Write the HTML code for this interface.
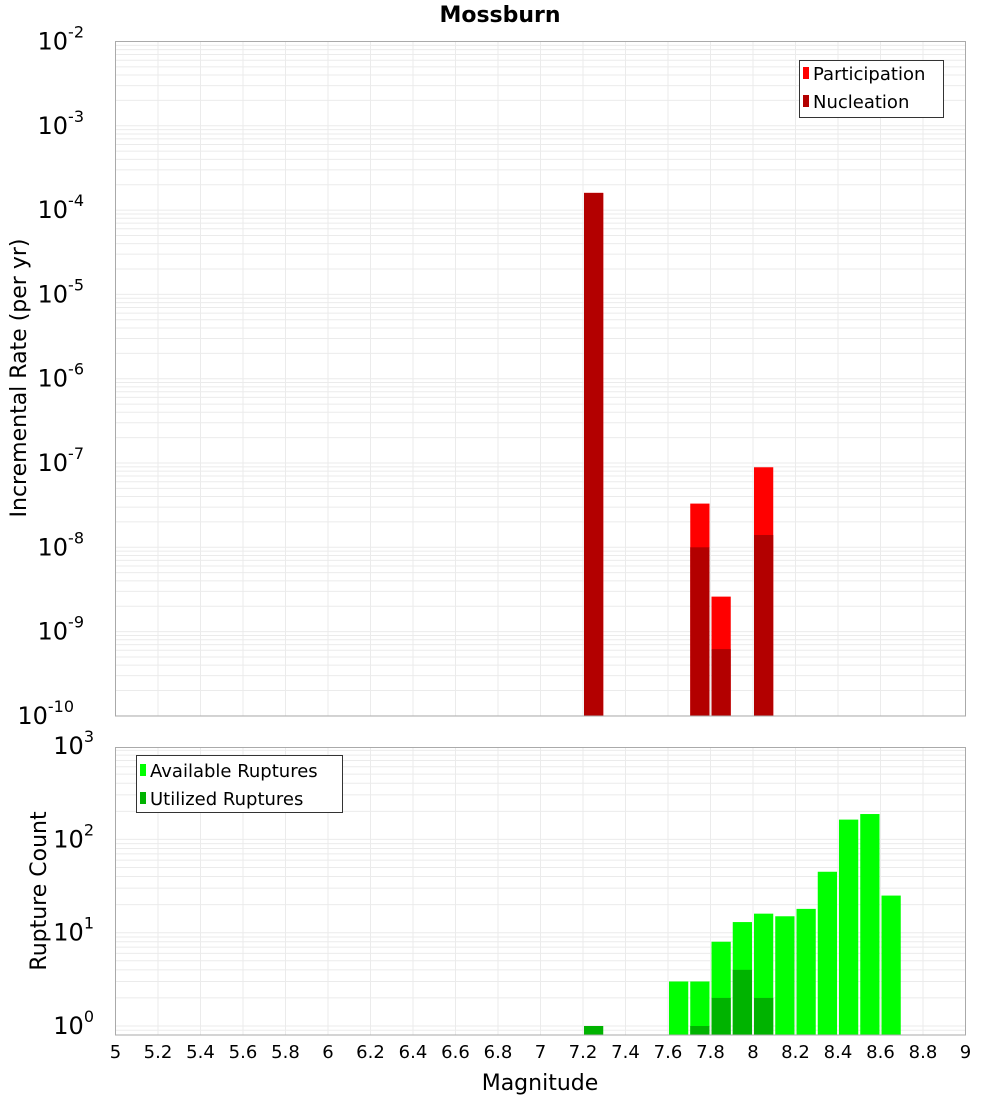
<!DOCTYPE html>
<html><head><meta charset="utf-8"><style>
body{margin:0;background:#fff;font-family:"Liberation Sans","DejaVu Sans",sans-serif}
svg text{font-family:"DejaVu Sans","Liberation Sans",sans-serif}
</style></head><body>
<svg id="c" width="1000" height="1100" xmlns="http://www.w3.org/2000/svg"></svg>
<script>
const binCenters=[7.25,7.75,7.85,8.05];
const participation=[1.6e-4,3.3e-8,2.6e-9,8.9e-8];
const nucleation=[1.6e-4,1.0e-8,6.2e-10,1.4e-8];
const countBins=[7.25,7.65,7.75,7.85,7.95,8.05,8.15,8.25,8.35,8.45,8.55,8.65];
const available=[0,3,3,8,13,16,15,18,45,163,187,25];
const utilized=[1,0,1,2,4,2,0,0,0,0,0,0];
const xTicks=[5,5.2,5.4,5.6,5.8,6,6.2,6.4,6.6,6.8,7,7.2,7.4,7.6,7.8,8,8.2,8.4,8.6,8.8,9];
const topExps=[-2,-3,-4,-5,-6,-7,-8,-9,-10];
const botExps=[0,1,2,3];

const NS="http://www.w3.org/2000/svg";
const svg=document.getElementById('c');
function el(t,a,p){const e=document.createElementNS(NS,t);for(const k in a)e.setAttribute(k,a[k]);(p||svg).appendChild(e);return e;}
const L=115.5,R=965.5;
const x=v=>L+(v-5)/4*(R-L);
const T1=41.5,B1=716;
const y1=v=>T1+(-2-Math.log10(v))*84.3;
const T2=747.5,B2=1035;
const y2=v=>1026-Math.log10(v)*93.3;

function grid(T,B,yf,lo,hi){
  const g=el('g',{});
  
  
  for(let e=lo;e<=hi;e++)for(let m=1;m<10;m++){
    const yy=yf(m*Math.pow(10,e));
    if(yy<T||yy>B)continue;
    el('line',{x1:L,x2:R,y1:yy,y2:yy,stroke:'#ebebeb','stroke-width':1},g);
  }
  xTicks.forEach(t=>{el('line',{x1:x(t),x2:x(t),y1:T,y2:B,stroke:'#ebebeb','stroke-width':1},g);});
}
grid(T1,B1,y1,-10,-2);
grid(T2,B2,y2,-1,3);

const bw=x(0.1)-x(0)-2;
binCenters.forEach((c,i)=>{
  const r=el('rect',{x:x(c)-bw/2,y:y1(participation[i]),width:bw,height:B1-y1(participation[i]),fill:'#ff0000'});
  
  
  const n=el('rect',{x:x(c)-bw/2,y:y1(nucleation[i]),width:bw,height:B1-y1(nucleation[i]),fill:'#b30000'});
  
  
});
countBins.forEach((c,i)=>{
  if(available[i]>0){
    const r=el('rect',{x:x(c)-bw/2,y:y2(available[i]),width:bw,height:B2-y2(available[i]),fill:'#00ff00'});
    
    
  }
  if(utilized[i]>0){
    const n=el('rect',{x:x(c)-bw/2,y:y2(utilized[i]),width:bw,height:B2-y2(utilized[i]),fill:'#00b300'});
    
    
  }
});
const f1=el('rect',{x:L,y:T1,width:R-L,height:B1-T1,fill:'none',stroke:'#aaa'});


const f2=el('rect',{x:L,y:T2,width:R-L,height:B2-T2,fill:'none',stroke:'#aaa'});



function sup(yy,e,name){
  const t=el('text',{x:104,y:yy+8,'text-anchor':'end','font-size':24,fill:'#000'});
  
  
  t.textContent='10';
  const s=el('tspan',{dy:-12,'font-size':16},t);s.textContent=String(e);
  t.setAttribute('x',104-(String(e).length*10));
}
topExps.forEach(e=>sup(y1(Math.pow(10,e)),e,'y-tick-label'));
botExps.forEach(e=>sup(y2(Math.pow(10,e)),e,'count-tick-label'));
xTicks.forEach(t=>{
  const tx=el('text',{x:x(t),y:1058,'text-anchor':'middle','font-size':18,fill:'#000'});
  
  
  tx.textContent=String(t);
});
</script>
<svg width="1000" height="1100" style="position:absolute;left:0;top:0" xmlns="http://www.w3.org/2000/svg">
<text x="500" y="22" text-anchor="middle" font-size="22" font-weight="bold">Mossburn</text>
<text x="540" y="1090" text-anchor="middle" font-size="22">Magnitude</text>
<text transform="translate(26,378) rotate(-90)" text-anchor="middle" font-size="22">Incremental Rate (per yr)</text>
<text transform="translate(46,891) rotate(-90)" text-anchor="middle" font-size="22">Rupture Count</text>
<g>
<rect x="799.5" y="60.5" width="144" height="57" fill="#fff" stroke="#333"/>
<rect x="803" y="67" width="6" height="12" fill="#ff0000"/>
<text x="813" y="80" font-size="18">Participation</text>
<rect x="803" y="95" width="6" height="12" fill="#b30000"/>
<text x="813" y="108" font-size="18">Nucleation</text>
</g>
<g>
<rect x="136.5" y="755.5" width="206" height="57" fill="#fff" stroke="#333"/>
<rect x="140" y="764" width="6" height="12" fill="#00ff00"/>
<text x="150" y="777" font-size="18">Available Ruptures</text>
<rect x="140" y="792" width="6" height="12" fill="#00b300"/>
<text x="150" y="805" font-size="18">Utilized Ruptures</text>
</g>
</svg>
</body></html>
